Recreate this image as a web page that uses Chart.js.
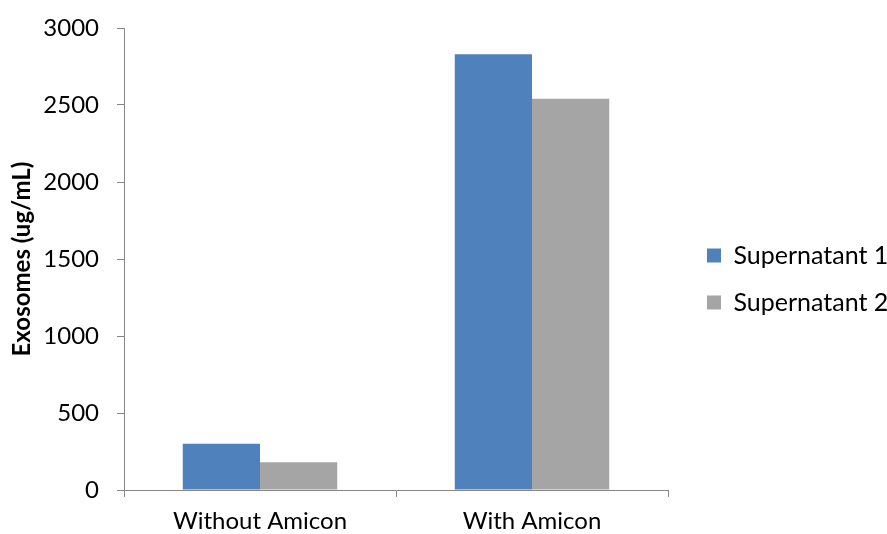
<!DOCTYPE html>
<html>
<head>
<meta charset="utf-8">
<style>
html,body{margin:0;padding:0;background:#fff;}
#wrap{width:887px;height:534px;}
</style>
<script src="https://cdn.jsdelivr.net/npm/chart.js@4.4.1/dist/chart.umd.min.js"></script>
</head>
<body>
<div id="wrap"><canvas id="c" width="887" height="534"></canvas></div>
<script>
const categories = ['Without Amicon', 'With Amicon'];
const supernatant1 = [300, 2830];
const supernatant2 = [180, 2540];
const seriesNames = ['Supernatant 1', 'Supernatant 2'];
const yTicks = [0, 500, 1000, 1500, 2000, 2500, 3000];
const yTitle = 'Exosomes (ug/mL)';

const axisColor = '#868686';
const FONT = 'Lato, Carlito, Calibri, sans-serif';

const legendPlacer = {
  id: 'legendPlacer',
  afterInit(chart) {
    const lg = chart.legend;
    if (lg && !lg._wrapped) {
      const orig = lg.fit.bind(lg);
      lg.fit = function () { orig(); this.width = 887 - 668; };
      lg._wrapped = true;
    }
  },
  afterLayout(chart) {
    const lg = chart.legend;
    if (!lg) return;
    lg.left += 17; lg.right += 17;
    lg.top -= 2; lg.bottom -= 2;
  }
};

new Chart(document.getElementById('c'), {
  type: 'bar',
  data: {
    labels: categories,
    datasets: [
      { label: seriesNames[0], data: supernatant1, backgroundColor: '#4F81BD', borderWidth: 0 },
      { label: seriesNames[1], data: supernatant2, backgroundColor: '#A5A5A5', borderWidth: 0 }
    ]
  },
  options: {
    responsive: false,
    animation: false,
    devicePixelRatio: 1,
    layout: { padding: { top: 28, left: 0, right: 0, bottom: 0 } },
    datasets: { bar: { categoryPercentage: 0.568, barPercentage: 1.0 } },
    plugins: {
      tooltip: { enabled: false },
      legend: {
        position: 'right',
        align: 'center',
        labels: {
          boxWidth: 14, boxHeight: 14, padding: 22,
          color: '#000',
          font: { family: FONT, size: 25 }
        }
      }
    },
    scales: {
      x: {
        offset: true,
        grid: { offset: true, drawOnChartArea: false, drawTicks: true, tickLength: 7, color: axisColor, lineWidth: 1 },
        border: { display: true, color: axisColor, width: 1 },
        ticks: { color: '#000', font: { family: FONT, size: 24 }, padding: 10, maxRotation: 0 },
        afterFit(s) { s.height = 534 - 490; }
      },
      y: {
        min: 0, max: 3000,
        afterBuildTicks(s) { s.ticks = yTicks.map(v => ({ value: v })); },
        grid: { drawOnChartArea: false, drawTicks: true, tickLength: 7, color: axisColor, lineWidth: 1 },
        border: { display: true, color: axisColor, width: 1 },
        ticks: { color: '#000', font: { family: FONT, size: 24 }, padding: 18, callback: v => String(v) },
        title: { display: true, text: yTitle, color: '#000', font: { family: FONT, size: 24, weight: 'bold' }, padding: { top: 8, bottom: 0 } },
        afterFit(s) { s.width = 124; s.paddingTop = 0; s.paddingBottom = 0; }
      }
    }
  },
  plugins: [legendPlacer]
});
</script>
</body>
</html>
